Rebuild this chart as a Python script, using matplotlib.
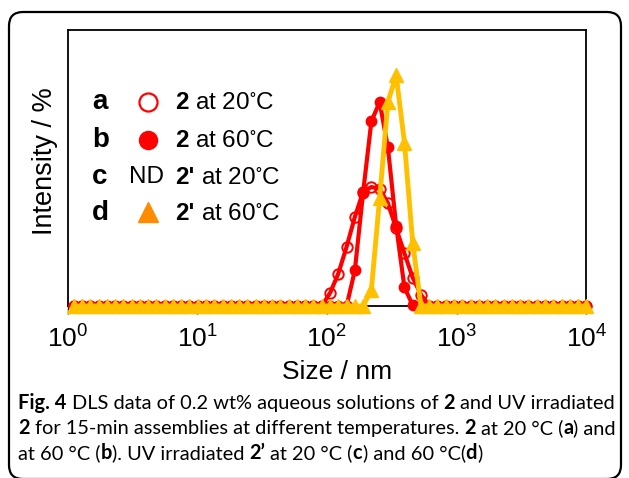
#
# DLS size distributions of 2 and UV irradiated 2' (Fig. 4)
#
import numpy as np
import matplotlib
matplotlib.use('Agg')
import matplotlib.pyplot as plt
from matplotlib.lines import Line2D
from matplotlib.patches import FancyBboxPatch
from matplotlib.transforms import IdentityTransform
from matplotlib.ticker import NullLocator

# size classes (nm) of the instrument, 1 - 10000 nm
size_nm = [1.117, 1.294, 1.499, 1.736, 2.010, 2.328, 2.696, 3.122, 3.615, 4.187,
           4.849, 5.615, 6.503, 7.531, 8.721, 10.10, 11.70, 13.54, 15.69, 18.17,
           21.04, 24.36, 28.21, 32.67, 37.84, 43.82, 50.75, 58.77, 68.06, 78.82,
           91.28, 105.7, 122.4, 141.8, 164.2, 190.1, 220.2, 255.0, 295.3, 342.0,
           396.1, 458.7, 531.2, 615.1, 712.4, 825.0, 955.4, 1106, 1281, 1484,
           1718, 1990, 2305, 2669, 3091, 3580, 4145, 4801, 5560, 6439,
           7456, 8635, 10000]

# a: 2 at 20 C
int_a = [0, 0, 0, 0, 0, 0, 0, 0, 0, 0,
         0, 0, 0, 0, 0, 0, 0, 0, 0, 0,
         0, 0, 0, 0, 0, 0, 0, 0, 0, 0,
         0, 1.6, 4.0, 7.3, 11.0, 14.1, 14.7, 14.5, 12.7, 9.6,
         6.5, 3.5, 1.4, 0, 0, 0, 0, 0, 0, 0,
         0, 0, 0, 0, 0, 0, 0, 0, 0, 0,
         0, 0, 0]
# b: 2 at 60 C
int_b = [0, 0, 0, 0, 0, 0, 0, 0, 0, 0,
         0, 0, 0, 0, 0, 0, 0, 0, 0, 0,
         0, 0, 0, 0, 0, 0, 0, 0, 0, 0,
         0, 0, 0, 0, 4.4, 14.0, 22.8, 25.2, 19.6, 9.9,
         2.3, 0.1, 0, 0, 0, 0, 0, 0, 0, 0,
         0, 0, 0, 0, 0, 0, 0, 0, 0, 0,
         0, 0, 0]
# d: 2' at 60 C  (c: not detected)
int_d = [0, 0, 0, 0, 0, 0, 0, 0, 0, 0,
         0, 0, 0, 0, 0, 0, 0, 0, 0, 0,
         0, 0, 0, 0, 0, 0, 0, 0, 0, 0,
         0, 0, 0, 0, 0, 0, 2.0, 13.3, 25.2, 28.5,
         20.2, 7.8, 0, 0, 0, 0, 0, 0, 0, 0,
         0, 0, 0, 0, 0, 0, 0, 0, 0, 0,
         0, 0, 0]

RED = '#ff0000'
GOLD = '#ffc000'
ORANGE = '#ff8c00'

W, H = 629, 478
plt.rcParams['font.family'] = ['Liberation Sans', 'DejaVu Sans']
plt.rcParams['mathtext.default'] = 'regular'

fig = plt.figure(figsize=(W / 100, H / 100), dpi=100)
renderer = fig.canvas.get_renderer()


def fpos(x, y):
    '''pixel (from top-left) -> figure fraction'''
    return x / W, 1 - y / H


def text_w(s, **kw):
    t = fig.text(0, 0, s, **kw)
    w = t.get_window_extent(renderer).width
    t.remove()
    return w


def draw_runs(x, y, runs, **kw):
    '''write runs of (text, bold) one after another from pixel x'''
    sp = text_w('x x', **kw) - text_w('xx', **kw)
    for s, bold in runs:
        x += sp * (len(s) - len(s.lstrip(' ')))
        core = s.strip(' ')
        if core:
            t = fig.text(*fpos(x, y), core, ha='left', va='baseline',
                         weight='bold' if bold else 'normal', **kw)
            x += t.get_window_extent(renderer).width
        x += sp * (len(s) - len(s.rstrip(' '))) if s.strip(' ') else 0
    return x


# outer rounded frame
fig.patches.append(FancyBboxPatch((9, H - 479), 612, 467,
                                  boxstyle='round,pad=0,rounding_size=14',
                                  transform=IdentityTransform(), fill=False,
                                  lw=1.6, ec='black'))

ax = fig.add_axes([67.5 / W, 1 - 306 / H, (586.3 - 67.5) / W, 276 / H])
ax.plot(size_nm, int_a, '-o', color=RED, mfc='none', mec=RED, mew=1.4,
        ms=7.5, lw=3, clip_on=False, zorder=3)
ax.plot(size_nm, int_b, '-o', color=RED, ms=7.5, lw=3, clip_on=False, zorder=4)
ax.plot(size_nm, int_d, '-^', color=GOLD, ms=10.5, lw=3.5, clip_on=False, zorder=5)

ax.set_xscale('log')
ax.set_xlim(1, 10000)
ax.set_ylim(0, 34.1)
ax.set_yticks([])
ax.xaxis.set_minor_locator(NullLocator())
ax.tick_params(axis='x', direction='out', length=6, width=1, labelsize=19, pad=8)
for sp in ax.spines.values():
    sp.set_linewidth(1.3)

fig.text(*fpos(337, 372), 'Size / nm', ha='center', va='center', fontsize=19)
fig.text(*fpos(45, 161), 'Intensity / %', ha='center', va='center',
         rotation=90, fontsize=19.5)

# in-plot key
rows = [102, 140, 177, 213]
for y, lab in zip(rows, 'abcd'):
    fig.text(*fpos(92, y), lab, ha='left', va='center', weight='bold', fontsize=20)
fig.add_artist(Line2D([148 / W], [1 - 102 / H], transform=fig.transFigure,
                      marker='o', ms=13, mfc='none', mec=RED, mew=1.6))
fig.add_artist(Line2D([148 / W], [1 - 140 / H], transform=fig.transFigure,
                      marker='o', ms=13, color=RED))
fig.add_artist(Line2D([148 / W], [1 - 212 / H], transform=fig.transFigure,
                      marker='^', ms=15, color=ORANGE))
fig.text(*fpos(129, 177), 'ND', ha='left', va='center', fontsize=17.5)
kw = dict(fontsize=17.5)
draw_runs(175, 109, [('2', True), (' at 20$^{\\circ}$C', False)], **kw)
draw_runs(175, 147, [('2', True), (' at 60$^{\\circ}$C', False)], **kw)
draw_runs(175, 184, [("2'", True), (' at 20$^{\\circ}$C', False)], **kw)
draw_runs(175, 220, [("2'", True), (' at 60$^{\\circ}$C', False)], **kw)

# caption
cap = [
    [('Fig. 4', True), (' DLS data of 0.2 wt% aqueous solutions of ', False),
     ('2', True), (' and UV irradiated', False)],
    [('2', True), (' for 15-min assemblies at different temperatures. ', False),
     ('2', True), (' at 20 °C (', False), ('a', True), (') and', False)],
    [('at 60 °C (', False), ('b', True), ('). UV irradiated ', False),
     ('2’', True), (' at 20 °C (', False), ('c', True), (') and 60 °C(', False),
     ('d', True), (')', False)],
]
ckw = dict(family=['Lato', 'DejaVu Sans'], fontsize=12)
# fit first line to its width in the figure
w0 = draw_runs(0, -100, cap[0], **ckw)
for t in list(fig.texts):
    if t.get_position()[1] > 1:
        t.remove()
ckw['fontsize'] = 12 * 594 / w0
for y, line in zip([409, 434, 459], cap):
    draw_runs(18, y, line, **ckw)

fig.savefig('out.png', dpi=100)
